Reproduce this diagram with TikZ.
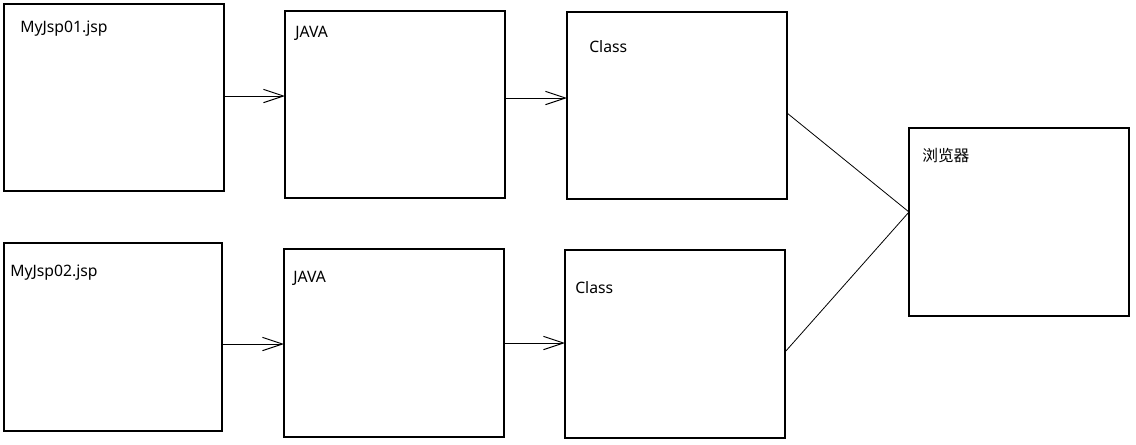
\documentclass[tikz,border=0pt]{standalone}
\usepackage{fontspec}
\setmainfont{Noto Sans}
\newfontfamily\cjk{Noto Sans CJK SC}
\usetikzlibrary{arrows.meta}
\begin{document}
\begin{tikzpicture}[x=0.75pt,y=-0.75pt,
  box/.style={draw,line width=0.8pt},
  lbl/.style={anchor=west,inner sep=0pt,font=\fontsize{11.8pt}{13pt}\selectfont},
  conn/.style={line width=0.75pt,-{Straight Barb[length=15pt,width=10pt,line width=0.75pt]}},
  link/.style={line width=0.6pt}]
\useasboundingbox (0,0) rectangle (1136,444);
\fill[white] (0,0) rectangle (1136,444);
% top row
\draw[box] (4,4) rectangle (224,191);
\draw[box] (285,11) rectangle (505,198);
\draw[box] (567,12) rectangle (787,199);
% browser
\draw[box] (909,128) rectangle (1129,316);
% bottom row
\draw[box] (4,243) rectangle (222,431);
\draw[box] (284,249) rectangle (504,437);
\draw[box] (565,250) rectangle (785,438);
% labels
\node[lbl] (t1) at (20,29) {MyJsp01.jsp};
\node[lbl] (t2) at (295,33) {JAVA};
\node[lbl] (t3) at (589,47) {Class};
\node[lbl] (t4) at (922,156) {\cjk 浏览器};
\node[lbl] (t5) at (10,273) {MyJsp02.jsp};
\node[lbl] (t6) at (293,278) {JAVA};
\node[lbl] (t7) at (575,288) {Class};
% connector points
\coordinate (a1) at (224,96); \coordinate (b1) at (285,96);
\coordinate (a2) at (505,98); \coordinate (b2) at (567,98);
\coordinate (a3) at (222,344); \coordinate (b3) at (284,344);
\coordinate (a4) at (504,343); \coordinate (b4) at (565,343);
\coordinate (c1) at (787,113); \coordinate (c2) at (785,352);
\coordinate (br) at (909,212);
\draw[conn] (a1) -- (b1);
\draw[conn] (a2) -- (b2);
\draw[conn] (a3) -- (b3);
\draw[conn] (a4) -- (b4);
\draw[link] (c1) -- (br);
\draw[link] (c2) -- (br);
\end{tikzpicture}
\end{document}
